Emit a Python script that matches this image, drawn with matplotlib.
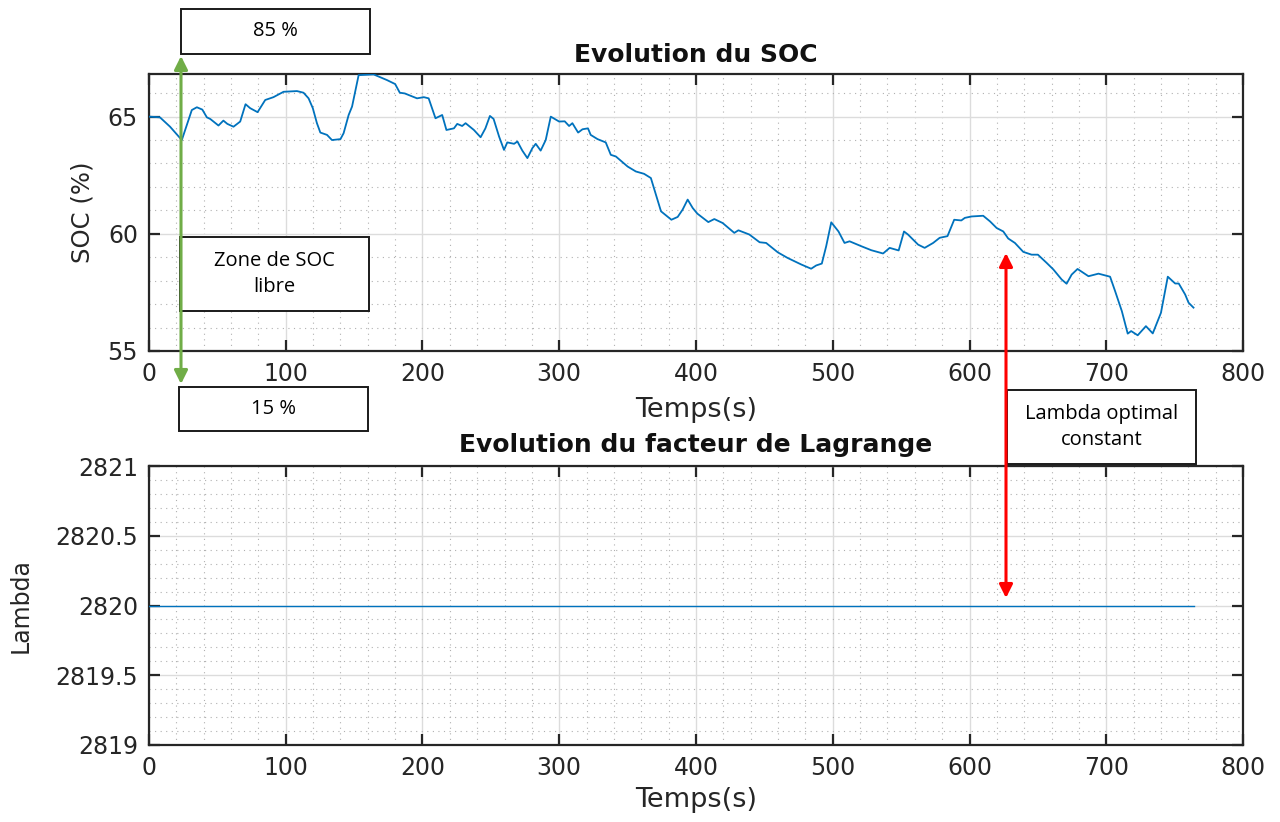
"""Evolution du SOC et du facteur de Lagrange (style MATLAB)"""
import matplotlib.pyplot as plt
from matplotlib.patches import FancyArrowPatch, Rectangle
from matplotlib.ticker import MultipleLocator

plt.rcParams["font.family"] = ["DejaVu Sans"]

# couleurs
COLOR_LINE = "#0072BD"
COLOR_AXES = "#262626"
COLOR_GRID = "#dcdcdc"
COLOR_MINOR = "#b0b0b0"
COLOR_GREEN = "#70AD47"
COLOR_RED = "#FF0000"

# données
temps = [0, 8, 15.4, 24, 31.3, 35, 39, 42.3, 44.8, 50.8, 54.4, 57.3, 61.8, 66.7, 70.6,
         74, 79.4, 85, 91, 98.4, 108.2, 113, 116.7, 119.8, 122.8, 125.3, 130.2, 133.8,
         140, 142.3, 146, 148.5, 153.3, 164.3, 174, 180, 183.4, 187, 196, 201, 204.5,
         209.5, 214.4, 217.5, 223, 225.4, 229, 231.5, 237.6, 242.5, 246, 249.3, 252,
         256, 259.6, 262, 267, 269.4, 273, 276.7, 280.4, 282.8, 286.4, 290.1, 293.8,
         299.9, 304, 307.2, 309.6, 313.8, 317, 321, 323, 328, 334, 337.7, 341.4, 350,
         356, 362, 367, 370.7, 374.4, 382, 386.6, 390.2, 393.9, 397.6, 401, 409, 413.4,
         419.5, 428, 431, 439, 446.5, 451.3, 459.8, 467, 477, 484.2, 487.9, 492, 495.2,
         498.9, 504.2, 508.6, 512.3, 520.9, 528.2, 536.8, 541.6, 548.2, 552.1, 555,
         562.4, 567.2, 573.4, 578.2, 583.9, 588.8, 594, 596.6, 601.5, 610, 615, 619.8,
         624.7, 628.3, 633.2, 639.3, 645.4, 650, 656.4, 661.3, 667.4, 671, 674.7, 679,
         687, 694.3, 702.8, 706.5, 711.4, 715.7, 718.2, 723, 729, 734, 740, 745, 750.4,
         753, 757.7, 760.2, 763.8]
soc = [65.0, 64.97, 64.57, 64.0, 65.28, 65.4, 65.3, 64.97, 64.9, 64.62, 64.83, 64.69,
       64.57, 64.79, 65.53, 65.36, 65.19, 65.71, 65.83, 66.06, 66.09, 66.02, 65.78,
       65.36, 64.72, 64.32, 64.22, 64.0, 64.04, 64.29, 65.07, 65.43, 66.77, 66.8, 66.56,
       66.39, 66.02, 65.99, 65.78, 65.83, 65.78, 64.93, 65.07, 64.43, 64.5, 64.69, 64.6,
       64.72, 64.43, 64.12, 64.5, 65.03, 64.9, 64.15, 63.58, 63.9, 63.84, 63.94, 63.55,
       63.23, 63.66, 63.84, 63.55, 64.0, 65.0, 64.79, 64.8, 64.6, 64.72, 64.32, 64.46,
       64.5, 64.22, 64.04, 63.9, 63.37, 63.3, 62.87, 62.66, 62.56, 62.38, 61.67, 60.96,
       60.6, 60.72, 61.03, 61.46, 61.1, 60.86, 60.5, 60.63, 60.46, 60.04, 60.15, 59.97,
       59.64, 59.61, 59.21, 58.97, 58.69, 58.51, 58.65, 58.73, 59.47, 60.49, 60.1, 59.61,
       59.68, 59.47, 59.3, 59.16, 59.4, 59.29, 60.1, 59.97, 59.54, 59.4, 59.61, 59.83,
       59.9, 60.6, 60.57, 60.68, 60.74, 60.77, 60.53, 60.25, 60.1, 59.8, 59.61, 59.23,
       59.11, 59.11, 58.76, 58.48, 58.05, 57.87, 58.26, 58.5, 58.19, 58.3, 58.17, 57.55,
       56.7, 55.74, 55.85, 55.67, 56.06, 55.75, 56.63, 58.17, 57.88, 57.88, 57.41,
       57.06, 56.85]
temps_lambda = [0, 763.8]
lambda_vals = [2820, 2820]

fig = plt.figure(figsize=(12.8, 8.22), dpi=100)
ax1 = fig.add_axes([0.1164, 0.573, 0.8547, 0.3373])
ax2 = fig.add_axes([0.1164, 0.0937, 0.8547, 0.3393])


def style_axes(ax, xlabel_y):
    ax.grid(True, which="major", color=COLOR_GRID, linewidth=1.0, zorder=0)
    ax.grid(True, which="minor", color=COLOR_MINOR, linestyle=(0, (1, 4)), linewidth=0.8, zorder=0)
    ax.set_axisbelow(True)
    for sp in ax.spines.values():
        sp.set_color(COLOR_AXES)
        sp.set_linewidth(1.6)
    ax.tick_params(which="major", direction="in", length=8, width=1.6, top=True, right=True,
                   colors=COLOR_AXES, labelsize=17)
    ax.tick_params(axis="y", pad=8)
    ax.tick_params(axis="x", pad=8)
    ax.tick_params(which="minor", length=0)
    ax.xaxis.set_major_locator(MultipleLocator(100))
    ax.xaxis.set_minor_locator(MultipleLocator(20))
    ax.set_xlim(0, 800)
    ax.set_xlabel("Temps(s)", fontsize=19.5, color=COLOR_AXES)
    ax.xaxis.set_label_coords(0.5, xlabel_y)


ax1.plot(temps, soc, color=COLOR_LINE, linewidth=1.3, zorder=3)
style_axes(ax1, -0.165)
ax1.set_ylim(55, 66.83)
ax1.yaxis.set_major_locator(MultipleLocator(5))
ax1.yaxis.set_minor_locator(MultipleLocator(1))
ax1.set_ylabel("SOC (%)", fontsize=17.5, color=COLOR_AXES)
ax1.yaxis.set_label_coords(-0.05, 0.5)
ax1.text(0.5, 1.043, "Evolution du SOC", transform=ax1.transAxes, ha="center",
         va="baseline", fontsize=18, fontweight="bold", color="#111111")

ax2.plot(temps_lambda, lambda_vals, color=COLOR_LINE, linewidth=1.0, zorder=3)
style_axes(ax2, -0.15)
ax2.set_ylim(2819, 2821)
ax2.yaxis.set_major_locator(MultipleLocator(0.5))
ax2.yaxis.set_minor_locator(MultipleLocator(0.1))
ax2.yaxis.set_major_formatter(plt.FuncFormatter(lambda v, p: f"{v:g}"))
ax2.set_ylabel("Lambda", fontsize=17, color=COLOR_AXES)
ax2.yaxis.set_label_coords(-0.106, 0.5)
ax2.text(0.5, 1.05, "Evolution du facteur de Lagrange", transform=ax2.transAxes, ha="center",
         va="baseline", fontsize=18, fontweight="bold", color="#111111")


# annotations en coordonnées pixel de la figure
def px(x, y):
    return x / 1280, 1 - y / 822


def boite(x0, y0, x1, y1, texte):
    (fx0, fy0), (fx1, fy1) = px(x0, y1), px(x1, y0)
    fig.add_artist(Rectangle((fx0, fy0), fx1 - fx0, fy1 - fy0, transform=fig.transFigure,
                             facecolor="white", edgecolor="#1a1a1a", linewidth=1.4, zorder=10))
    fig.text((fx0 + fx1) / 2, (fy0 + fy1) / 2, texte, ha="center", va="center",
             fontsize=14.5, family=["Open Sans", "DejaVu Sans"], linespacing=1.35, zorder=11)


def fleche(x, y0, y1, couleur, lw):
    fig.add_artist(FancyArrowPatch(px(x, y0), px(x, y1), transform=fig.transFigure,
                                   arrowstyle="<|-|>,head_length=8,head_width=4",
                                   color=couleur, linewidth=lw, zorder=12,
                                   shrinkA=0, shrinkB=0))


boite(181, 9, 370, 54, "85 %")
boite(180, 237, 369, 311, "Zone de SOC\nlibre")
boite(179, 387, 368, 431, "15 %")
boite(1007, 390, 1196, 464, "Lambda optimal\nconstant")
fleche(181, 56, 384, COLOR_GREEN, 2.2)
fleche(1006, 253, 598, COLOR_RED, 2.2)

fig.savefig("out.png", dpi=100)
plt.close(fig)
